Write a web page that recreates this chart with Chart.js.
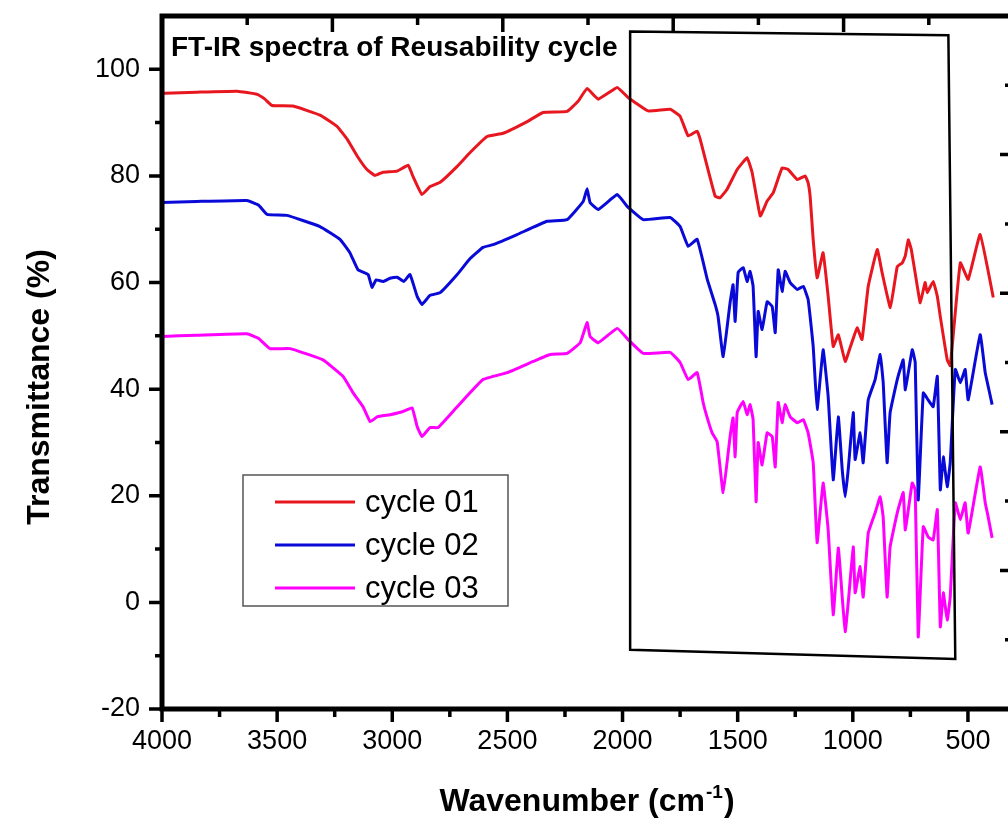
<!DOCTYPE html>
<html>
<head>
<meta charset="utf-8">
<script src="https://cdn.jsdelivr.net/npm/chart.js@4.4.1/dist/chart.umd.min.js"></script>
<style>
  html, body { margin: 0; padding: 0; background: #fff; overflow: hidden; }
  #wrap { width: 1008px; height: 821px; overflow: hidden; }
  canvas { display: block; }
</style>
</head>
<body>
<div id="wrap"><canvas id="c" width="1040" height="821"></canvas></div>
<script>
// ---- Data ----
const seriesLabels = ['cycle 01', 'cycle 02', 'cycle 03'];
const seriesColors = ['#e8161e', '#0a0ad8', '#ff00ff'];

const xTickValues = [4000, 3500, 3000, 2500, 2000, 1500, 1000, 500];
const yTickValues = [-20, 0, 20, 40, 60, 80, 100];

const wn01 = [4000,3987,3850,3674,3587,3553,3522,3431,3314,3240,3196,3149,3110,3075,3040,2979,2931,2910,2871,2836,2792,2718,2662,2588,2519,2414,2345,2241,2193,2154,2106,2023,1976,1889,1793,1750,1715,1676,1663,1598,1576,1546,1502,1459,1437,1402,1372,1346,1307,1281,1241,1207,1194,1185,1172,1155,1129,1107,1085,1063,1033,1010,981,960,933,894,873,837,807,785,772,759,746,720,707,686,677,651,633,620,590,577,560,533,499,447,390];
const t01  = [95.5,95.5,95.7,95.9,95.3,94.4,93.2,93.1,91.4,89.3,86.9,83.5,81.2,80.1,80.7,80.9,82.0,79.9,76.5,78.0,78.8,81.8,84.4,87.4,88.0,90.2,91.9,92.1,94.0,96.4,94.4,96.6,94.7,92.2,92.5,91.2,87.5,88.4,86.9,76.2,75.9,77.5,81.2,83.4,80.6,72.5,75.3,76.8,81.5,81.2,79.3,80.0,78.7,76.0,68.0,60.9,65.6,57.4,48.0,50.2,45.2,48.0,51.5,49.3,59.3,66.2,61.9,55.3,63.0,63.7,65.0,68.0,66.2,59.3,56.2,60.0,58.1,60.2,57.4,53.6,45.5,44.4,52.0,63.7,60.6,69.0,57.2];

const wn02 = [4000,3850,3631,3580,3544,3457,3314,3227,3184,3149,3105,3088,3070,3040,3010,2979,2950,2923,2892,2871,2836,2792,2718,2662,2606,2562,2458,2328,2241,2171,2154,2141,2106,2023,1980,1910,1793,1750,1715,1676,1632,1598,1585,1563,1533,1520,1511,1498,1476,1459,1446,1433,1420,1411,1394,1372,1350,1337,1324,1307,1294,1272,1241,1215,1194,1172,1155,1129,1107,1085,1063,1046,1033,1020,998,990,968,955,933,903,881,868,851,838,807,781,772,742,729,716,694,673,651,633,620,607,590,577,555,533,512,499,447,425,412,395];
const t02  = [75.0,75.2,75.4,74.5,72.8,72.6,70.5,68.1,65.6,62.4,61.5,59.1,60.5,60.2,60.8,61.0,60.2,61.5,57.4,55.9,57.6,58.1,61.5,64.5,66.6,67.1,69.0,71.5,71.8,75.2,77.6,75.0,73.7,76.5,74.3,71.8,72.2,70.5,66.8,68.1,60.6,55.9,53.6,46.1,56.2,59.6,52.7,61.9,62.8,60.2,62.1,59.3,46.1,54.6,51.2,56.4,55.5,50.6,62.4,58.3,62.1,60.0,58.7,59.3,56.8,48.0,36.2,47.4,38.6,23.0,34.8,24.9,19.8,24.9,35.6,26.8,31.8,26.2,38.0,41.8,46.5,41.2,26.2,35.6,41.8,45.5,39.9,47.4,45.0,19.2,39.3,38.0,36.7,42.4,21.1,27.3,21.7,26.2,43.7,41.2,43.7,38.0,50.2,43.1,40.5,37.1];

const wn03 = [4000,3850,3631,3580,3531,3444,3301,3214,3170,3127,3096,3066,3010,2953,2914,2892,2871,2836,2801,2718,2606,2501,2388,2314,2241,2184,2154,2141,2106,2023,1976,1910,1793,1750,1715,1676,1650,1632,1611,1589,1563,1533,1520,1511,1502,1476,1459,1446,1433,1420,1411,1394,1372,1350,1337,1324,1307,1294,1272,1241,1215,1194,1172,1155,1129,1107,1085,1063,1046,1033,1020,998,990,968,955,933,903,881,868,851,838,807,781,772,742,729,716,694,673,651,633,620,607,590,577,555,533,512,499,447,425,412,395];
const t03  = [49.9,50.1,50.4,49.5,47.6,47.6,45.5,42.4,39.3,36.7,33.9,34.8,35.2,35.8,36.5,33.0,31.1,32.8,32.8,36.7,41.8,43.1,45.2,46.5,46.7,48.7,52.5,49.9,48.7,51.4,49.3,46.7,46.9,45.0,41.8,43.1,37.5,34.6,31.8,30.1,20.6,31.1,34.6,27.3,35.6,37.7,35.2,37.1,34.3,18.9,30.0,25.8,31.8,31.1,25.4,37.5,33.7,37.1,34.8,33.7,34.3,31.8,26.2,11.2,22.4,13.6,-2.3,10.2,1.0,-5.5,-0.1,10.4,1.8,6.7,1.0,13.0,16.8,19.8,15.9,1.0,10.4,16.8,20.6,13.6,22.4,21.1,-6.5,14.2,12.3,11.7,17.4,-4.6,1.8,-3.3,1.0,18.7,15.5,18.7,13.0,25.4,18.7,16.0,12.1];

// annotation box corners (wavenumber, transmittance)
const boxWn = [1967, 585, 555, 1967];
const boxT  = [107.1, 106.4, -10.6, -8.9];

const titleText = 'FT-IR spectra of Reusability cycle';
const yTitle = 'Transmittance (%)';
const xTitleMain = 'Wavenumber (cm';
const xTitleSup = '-1';

const FONT = '"Liberation Sans", Arial, sans-serif';

function pts(xs, ys) { return xs.map((x, i) => ({ x: x, y: ys[i] })); }

const decor = {
  id: 'decor',
  afterDatasetsDraw(chart) {
    const ctx = chart.ctx;
    const a = chart.chartArea;
    const sx = chart.scales.x, sy = chart.scales.y, sx2 = chart.scales.x2, sy2 = chart.scales.y2;
    ctx.save();

    // annotation quadrilateral
    ctx.strokeStyle = '#000';
    ctx.lineWidth = 2.5;
    ctx.beginPath();
    boxWn.forEach((w, i) => {
      const px = sx.getPixelForValue(w), py = sy.getPixelForValue(boxT[i]);
      if (i === 0) ctx.moveTo(px, py); else ctx.lineTo(px, py);
    });
    ctx.closePath();
    ctx.stroke();

    // title
    ctx.fillStyle = '#000';
    ctx.font = 'bold 28px ' + FONT;
    ctx.textAlign = 'left';
    ctx.textBaseline = 'alphabetic';
    ctx.fillText(titleText, a.left + 9, 56);

    // legend
    const lx = 243, ly = 475, lw = 265, lh = 131;
    ctx.fillStyle = '#fff';
    ctx.fillRect(lx, ly, lw, lh);
    ctx.strokeStyle = '#555';
    ctx.lineWidth = 1.5;
    ctx.strokeRect(lx, ly, lw, lh);
    ctx.font = '31px ' + FONT;
    ctx.textBaseline = 'middle';
    chart.data.datasets.forEach((ds, i) => {
      const yy = ly + 27 + i * 43;
      ctx.strokeStyle = ds.borderColor;
      ctx.lineWidth = 3;
      ctx.beginPath();
      ctx.moveTo(lx + 32, yy);
      ctx.lineTo(lx + 112, yy);
      ctx.stroke();
      ctx.fillStyle = '#000';
      ctx.fillText(ds.label, lx + 122, yy + 1);
    });

    // frame
    ctx.strokeStyle = '#000';
    ctx.lineWidth = 5;
    ctx.lineCap = 'square';
    ctx.strokeRect(a.left, a.top, a.right - a.left, a.bottom - a.top);
    ctx.lineCap = 'butt';

    // left ticks (outward)
    ctx.lineWidth = 3.5;
    ctx.beginPath();
    for (let v = -20; v <= 100; v += 10) {
      const py = sy.getPixelForValue(v);
      const len = (v % 20 === 0) ? 13 : 7;
      ctx.moveTo(a.left, py); ctx.lineTo(a.left - len, py);
    }
    // bottom ticks (outward)
    for (let v = 4000; v >= 500; v -= 250) {
      const px = sx.getPixelForValue(v);
      const len = (v % 500 === 0) ? 13 : 8;
      ctx.moveTo(px, a.bottom); ctx.lineTo(px, a.bottom + len);
    }
    // top ticks (inward)
    for (let v = 1; v <= 9; v++) {
      const px = sx2.getPixelForValue(v);
      const len = (v % 2 === 0) ? 16 : 9;
      ctx.moveTo(px, a.top); ctx.lineTo(px, a.top + len);
    }
    // right ticks (inward)
    for (let v = 1; v <= 9; v++) {
      const py = sy2.getPixelForValue(v);
      const len = (v % 2 === 0) ? 14 : 9;
      ctx.moveTo(a.right, py); ctx.lineTo(a.right - len, py);
    }
    ctx.stroke();

    // y axis title
    ctx.fillStyle = '#000';
    ctx.font = 'bold 32px ' + FONT;
    ctx.textAlign = 'center';
    ctx.textBaseline = 'middle';
    ctx.save();
    ctx.translate(40, 387);
    ctx.rotate(-Math.PI / 2);
    ctx.fillText(yTitle, 0, 0);
    ctx.restore();

    // x axis title with superscript
    ctx.textBaseline = 'alphabetic';
    ctx.textAlign = 'left';
    ctx.font = 'bold 32px ' + FONT;
    const wMain = ctx.measureText(xTitleMain).width;
    ctx.font = 'bold 19px ' + FONT;
    const wSup = ctx.measureText(xTitleSup).width;
    ctx.font = 'bold 32px ' + FONT;
    const wClose = ctx.measureText(')').width;
    const total = wMain + wSup + wClose + 2;
    const cx = 587;
    let xx = cx - total / 2;
    const base = 811;
    ctx.fillText(xTitleMain, xx, base);
    xx += wMain + 1;
    ctx.font = 'bold 19px ' + FONT;
    ctx.fillText(xTitleSup, xx, base - 13);
    xx += wSup + 1;
    ctx.font = 'bold 32px ' + FONT;
    ctx.fillText(')', xx, base);

    ctx.restore();
  }
};

new Chart(document.getElementById('c'), {
  type: 'line',
  data: {
    datasets: [
      { label: seriesLabels[0], data: pts(wn01, t01), borderColor: seriesColors[0] },
      { label: seriesLabels[1], data: pts(wn02, t02), borderColor: seriesColors[1] },
      { label: seriesLabels[2], data: pts(wn03, t03), borderColor: seriesColors[2] }
    ]
  },
  options: {
    responsive: false,
    animation: false,
    devicePixelRatio: 1,
    layout: { padding: { top: 16, right: 26, left: 0, bottom: 0 } },
    elements: {
      line: { borderWidth: 3, tension: 0.1, fill: false },
      point: { radius: 0, hoverRadius: 0 }
    },
    plugins: { legend: { display: false }, tooltip: { enabled: false } },
    scales: {
      x: {
        type: 'linear', reverse: true, min: 300, max: 4000,
        afterBuildTicks: s => { s.ticks = xTickValues.map(v => ({ value: v })); },
        afterFit: s => { s.height = 112; s.paddingLeft = 0; s.paddingRight = 0; },
        grid: { display: false, drawTicks: false },
        border: { display: false },
        ticks: { autoSkip: false, maxRotation: 0, callback: v => String(v),
                 padding: 16, color: '#000', font: { family: FONT, size: 27 } }
      },
      y: {
        type: 'linear', min: -20, max: 110,
        afterBuildTicks: s => { s.ticks = yTickValues.map(v => ({ value: v })); },
        afterFit: s => { s.width = 162; s.paddingTop = 0; s.paddingBottom = 0; },
        grid: { display: false, drawTicks: false },
        border: { display: false },
        ticks: { padding: 22, color: '#000', callback: v => String(v),
                 font: { family: FONT, size: 27 } }
      },
      x2: { type: 'linear', position: 'top', min: 0, max: 10, display: false },
      y2: { type: 'linear', position: 'right', min: 0, max: 10, display: false }
    }
  },
  plugins: [decor]
});
</script>
</body>
</html>
